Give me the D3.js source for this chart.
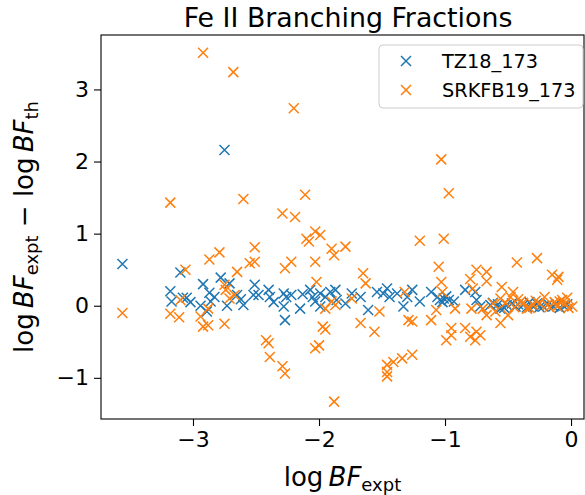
<!DOCTYPE html>
<html>
<head>
<meta charset="utf-8">
<script src="https://cdn.jsdelivr.net/npm/d3@7"></script>
<style>
  body { margin: 0; background: #fff; }
  svg { font-family: "DejaVu Sans", sans-serif; }
</style>
</head>
<body>
<svg id="chart" width="585" height="495"></svg>
<script>
// TZ18_173 (blue)
var tzX = [-3.56,-3.10,-3.18,-3.17,-3.08,-3.05,-2.92,-2.94,-2.89,-2.87,-2.86,-2.78,-2.71,-2.73,-2.65,-2.60,-2.51,-2.52,-2.75,
  -2.48,-2.40,-2.39,-2.28,-2.26,-2.28,-2.22,-2.15,-2.27,-2.07,-2.03,-1.99,-1.99,-1.95,-1.91,-1.87,-1.86,-1.79,-1.74,-1.67,-1.61,-1.54,-1.49,-1.46,-1.44,-1.38,-1.33,-1.30,
  -1.26,-1.20,-1.11,-1.04,-1.01,-0.97,-0.93,-0.84,-0.76,-0.75,-0.72,-0.64,-0.56,-0.51,-0.44,-0.38,-0.30,-0.22,-0.14,-0.06,
  -1.06,-1.02,-0.99,-0.62,-0.58,-0.47,-0.42,-0.35,-0.27,-0.25,-0.18,-0.12,-0.09,-0.03,-0.33,-0.53,-2.05,-2.13,-2.36,-2.62,-2.83,-3.02];
var tzY = [0.58,0.46,0.20,0.06,0.11,0.11,0.30,0.00,-0.08,0.18,0.06,0.39,0.31,0.00,0.15,0.01,0.29,0.15,2.16,
  0.15,0.22,0.12,0.17,0.12,-0.01,0.15,-0.04,-0.20,0.22,0.06,0.17,-0.01,0.12,0.19,0.22,0.08,0.03,0.17,0.12,-0.06,0.19,0.17,0.24,0.12,0.17,-0.01,0.12,
  0.22,0.06,0.19,0.08,0.10,0.08,0.06,0.22,0.19,0.08,-0.01,0.01,-0.04,0.01,-0.01,0.01,-0.01,-0.01,-0.01,0.00,
  0.12,0.05,0.13,0.04,0.02,0.03,0.02,-0.02,0.03,-0.02,0.02,0.03,-0.03,0.02,0.05,-0.03,0.12,0.16,0.05,0.09,0.12,0.05];

// SRKFB19_173 (orange)
var srX = [-2.92,-2.68,-2.20,-3.18,-2.60,-2.11,-2.29,-2.19,-2.03,-1.99,-2.10,-1.03,-0.97,-1.20,-1.01,
  -2.08,-2.51,-2.79,-2.87,-2.51,-2.55,-2.22,-2.27,-2.03,-1.90,-1.88,-1.79,-3.06,-2.65,-2.02,-3.56,-3.18,-3.11,-3.10,-2.94,-2.92,-2.88,-2.88,
  -2.75,-2.74,-2.71,-2.67,-2.75,-2.42,-2.40,-2.39,-2.29,-2.27,-1.88,-1.95,-1.97,-1.95,-2.00,-2.03,-1.87,
  -1.65,-1.63,-1.74,-1.90,-1.52,-1.67,-1.56,-1.32,-1.29,
  -1.05,-1.03,-1.02,-0.75,-0.67,-0.43,-0.27,-0.15,-0.11,-0.10,-0.55,-0.46,-0.78,-1.07,-0.92,-0.79,-0.70,-0.56,-0.48,-0.40,-0.21,-0.09,0.01,
  -1.26,-1.11,-0.56,-0.50,-0.95,-0.84,-0.75,-0.80,-0.99,-0.76,-0.67,-0.35,-0.30,-0.19,-0.11,
  -1.46,-1.46,-1.46,-1.41,-1.34,-1.26,-0.95,-0.72,-0.80,-0.67,
  -0.62,-0.45,-0.38,-0.33,-0.25,-0.17,-0.13,-0.05,-0.02,-0.07,-0.52,-0.42,-0.60,-0.28,-0.03];
var srY = [3.51,3.24,2.74,1.43,1.48,1.54,1.28,1.23,1.03,0.98,0.93,2.03,1.56,0.90,0.93,
  0.89,0.81,0.74,0.64,0.61,0.59,0.61,0.52,0.61,0.79,0.70,0.82,0.50,0.47,0.33,-0.10,-0.11,-0.16,0.08,-0.15,-0.29,-0.27,-0.04,
  0.29,0.22,0.10,0.15,-0.25,-0.48,-0.52,-0.71,-0.84,-0.94,-1.33,-0.04,-0.29,-0.33,-0.55,-0.59,0.01,
  0.45,0.31,0.10,0.06,-0.08,-0.24,-0.36,0.19,-0.20,
  0.54,0.33,0.19,0.50,0.47,0.60,0.66,0.43,0.36,0.40,0.26,0.19,0.24,-0.06,-0.04,-0.04,-0.04,0.10,0.12,0.06,0.12,0.06,-0.01,
  -0.22,-0.20,-0.24,-0.13,-0.31,-0.31,-0.36,-0.43,-0.48,-0.48,-0.13,-0.04,0.01,0.01,-0.01,
  -0.82,-0.92,-0.98,-0.78,-0.73,-0.68,-0.41,-0.41,0.37,0.34,
  0.03,-0.02,0.04,-0.03,0.03,-0.02,0.05,0.03,-0.03,0.08,0.04,0.09,-0.08,0.07,0.11];

var seriesNames = ["TZ18_173", "SRKFB19_173"];
var seriesColors = ["#1f77b4", "#ff7f0e"];
var xTicks = [-3, -2, -1, 0];
var yTicks = [-1, 0, 1, 2, 3];

var svg = d3.select("#chart");
// plot box (note: "top" is reserved on window, so use other names)
var plotL = 101, plotR = 584, plotT = 35, plotB = 419;

var x = d3.scaleLinear().domain([-3.73, 0.103]).range([plotL, plotR]);
var y = d3.scaleLinear().domain([-1.571, 3.755]).range([plotB, plotT]);

// points
var series = [
  {name: seriesNames[0], color: seriesColors[0], xs: tzX, ys: tzY},
  {name: seriesNames[1], color: seriesColors[1], xs: srX, ys: srY}
];

var r = 5;
var cross = "M" + (-r) + "," + (-r) + "L" + r + "," + r + "M" + (-r) + "," + r + "L" + r + "," + (-r);

series.forEach(function(s) {
  svg.append("g")
    .selectAll("path")
    .data(s.xs.map(function(v, i) { return [v, s.ys[i]]; }))
    .enter().append("path")
      .attr("d", cross)
      .attr("transform", function(d) { return "translate(" + x(d[0]) + "," + y(d[1]) + ")"; })
      .attr("fill", "none")
      .attr("stroke", s.color)
      .attr("stroke-width", 1.5);
});

// axes
var xAxis = svg.append("g")
  .attr("transform", "translate(0," + plotB + ")")
  .call(d3.axisBottom(x).tickValues(xTicks).tickSize(7).tickPadding(5).tickFormat(d3.format("d")));
var yAxis = svg.append("g")
  .attr("transform", "translate(" + plotL + ",0)")
  .call(d3.axisLeft(y).tickValues(yTicks).tickSize(7).tickPadding(5).tickFormat(d3.format("d")));

[xAxis, yAxis].forEach(function(a) {
  a.select(".domain").remove();
  a.selectAll(".tick line").attr("stroke", "#000").attr("stroke-width", 1.1);
  a.selectAll(".tick text")
    .attr("fill", "#000")
    .attr("font-family", "DejaVu Sans")
    .attr("font-size", "22px");
});

// frame
svg.append("rect")
  .attr("x", plotL).attr("y", plotT)
  .attr("width", plotR - plotL).attr("height", plotB - plotT)
  .attr("fill", "none")
  .attr("stroke", "#000")
  .attr("stroke-width", 1.1);

// title
svg.append("text")
  .attr("x", 348)
  .attr("y", 27)
  .attr("text-anchor", "middle")
  .attr("font-size", "26.8px")
  .text("Fe II Branching Fractions");

// x label
var xl = svg.append("text")
  .attr("x", (plotL + plotR) / 2)
  .attr("y", 486)
  .attr("text-anchor", "middle")
  .attr("font-size", "26px");
xl.append("tspan").text("log\u2009");
xl.append("tspan").attr("font-style", "italic").text("BF");
xl.append("tspan").attr("font-size", "18px").attr("dy", 5).text("expt");

// y label
var yl = svg.append("text")
  .attr("transform", "translate(33," + ((plotT + plotB) / 2) + ") rotate(-90)")
  .attr("text-anchor", "middle")
  .attr("font-size", "26px");
yl.append("tspan").text("log\u2009");
yl.append("tspan").attr("font-style", "italic").text("BF");
yl.append("tspan").attr("font-size", "18px").attr("dy", 5).text("expt");
yl.append("tspan").attr("dy", -5).text(" \u2212 log\u2009");
yl.append("tspan").attr("font-style", "italic").text("BF");
yl.append("tspan").attr("font-size", "18px").attr("dy", 5).text("th");

// legend
var lg = svg.append("g");
lg.append("rect")
  .attr("x", 379).attr("y", 45)
  .attr("width", 204).attr("height", 63)
  .attr("rx", 4)
  .attr("fill", "#fff").attr("fill-opacity", 0.8)
  .attr("stroke", "#cccccc").attr("stroke-width", 1);
series.forEach(function(s, i) {
  var cy = 61 + i * 29;
  lg.append("path")
    .attr("d", cross)
    .attr("transform", "translate(406," + cy + ")")
    .attr("fill", "none")
    .attr("stroke", s.color)
    .attr("stroke-width", 1.5);
  lg.append("text")
    .attr("x", 442).attr("y", cy + 7)
    .attr("font-size", "19.3px")
    .text(s.name);
});
</script>
</body>
</html>
